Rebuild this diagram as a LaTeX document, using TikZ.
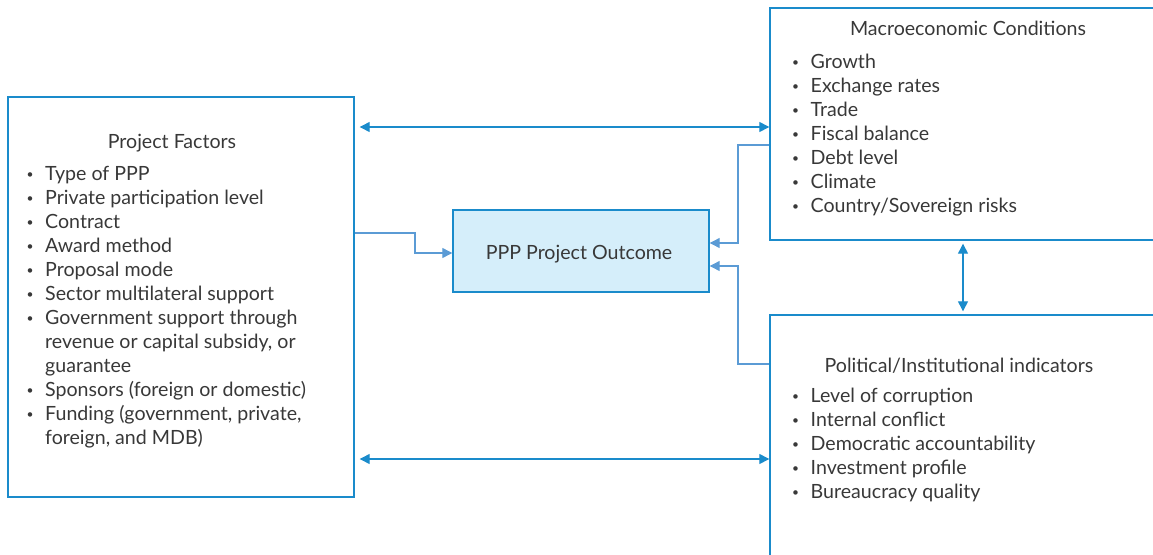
\documentclass[tikz,border=0pt]{standalone}
\usepackage{fontspec}
\setmainfont{Lato}
\usetikzlibrary{arrows.meta,calc}
\definecolor{bblue}{HTML}{1A8BCB}
\definecolor{lblue}{HTML}{5B9BD5}
\definecolor{fillb}{HTML}{D5EEFA}
\definecolor{txt}{HTML}{383838}
\newcommand{\bul}{\raisebox{1.5pt}{\fontsize{12}{12}\selectfont\textbullet}}
\newcommand{\itm}[1]{\makebox[18.5pt][l]{\bul}#1}
\newcommand{\cnt}[1]{\hspace*{18.5pt}#1}
\newcommand{\fs}{\fontsize{19.6}{24}\selectfont}
\begin{document}
\begin{tikzpicture}[x=1pt,y=-1pt,
 box/.style={draw=bblue,line width=1.4pt,rectangle,inner sep=0},
 lbl/.style={text=txt,font=\fs,inner sep=0},
 dbl/.style={draw=bblue,line width=1.3pt,{Triangle[length=10pt,width=10pt]}-{Triangle[length=10pt,width=10pt]}},
 inarr/.style={draw=lblue,line width=1.2pt,-{Triangle[length=10pt,width=10pt]}}]
\useasboundingbox (0,0) rectangle (1153,554);
\clip (0,0) rectangle (1153,554);
% boxes
\node[box,minimum width=346pt,minimum height=400pt] (pf) at (181,297) {};
\node[box,fill=fillb,minimum width=256pt,minimum height=82pt] (out) at (581,251) {};
\node[box,minimum width=405pt,minimum height=232pt] (mac) at (972.5,124) {};
\node[box,minimum width=405pt,minimum height=265pt] (pol) at (972.5,447.5) {};
% titles
\node[lbl,anchor=base] (pft) at (172,148) {Project Factors};
\node[lbl,anchor=base] (outt) at (579,259) {PPP Project Outcome};
\node[lbl,anchor=base] (mact) at (968,35) {Macroeconomic Conditions};
\node[lbl,anchor=base] (polt) at (959,372) {Political/Institutional indicators};
% lists
\node[lbl,anchor=base west] (pfl) at (26.5,180) {\parbox[t]{320pt}{\fs
\itm{Type of PPP}\\
\itm{Private participation level}\\
\itm{Contract}\\
\itm{Award method}\\
\itm{Proposal mode}\\
\itm{Sector multilateral support}\\
\itm{Government support through}\\
\cnt{revenue or capital subsidy, or}\\
\cnt{guarantee}\\
\itm{Sponsors (foreign or domestic)}\\
\itm{Funding (government, private,}\\
\cnt{foreign, and MDB)}}};
\node[lbl,anchor=base west] (macl) at (792,68) {\parbox[t]{340pt}{\fs
\itm{Growth}\\
\itm{Exchange rates}\\
\itm{Trade}\\
\itm{Fiscal balance}\\
\itm{Debt level}\\
\itm{Climate}\\
\itm{Country/Sovereign risks}}};
\node[lbl,anchor=base west] (poll) at (792,402) {\parbox[t]{340pt}{\fs
\itm{Level of corruption}\\
\itm{Internal conflict}\\
\itm{Democratic accountability}\\
\itm{Investment profile}\\
\itm{Bureaucracy quality}}};
% helper coordinates
\coordinate (ya) at (0,127);
\coordinate (yb) at (0,459);
\coordinate (xv) at (963,0);
\coordinate (a1) at (0,233);
\coordinate (a2) at (415,253);
\coordinate (m1) at (0,145);
\coordinate (m2) at (738,243);
\coordinate (p1) at (0,364);
\coordinate (p2) at (738,266);
% double arrows
\draw[dbl] ($(pf.east |- ya)+(5,0)$) -- (mac.west |- ya);
\draw[dbl] ($(pf.east |- yb)+(5,0)$) -- (pol.west |- yb);
\draw[dbl] ($(mac.south -| xv)+(0,3)$) -- ($(pol.north -| xv)+(0,-3)$);
% arrows into outcome
\draw[inarr] (pf.east |- a1) -| (a2) -- (out.west |- a2);
\draw[inarr] (mac.west |- m1) -| (m2) -- (out.east |- m2);
\draw[inarr] (pol.west |- p1) -| (p2) -- (out.east |- p2);
\end{tikzpicture}
\end{document}
